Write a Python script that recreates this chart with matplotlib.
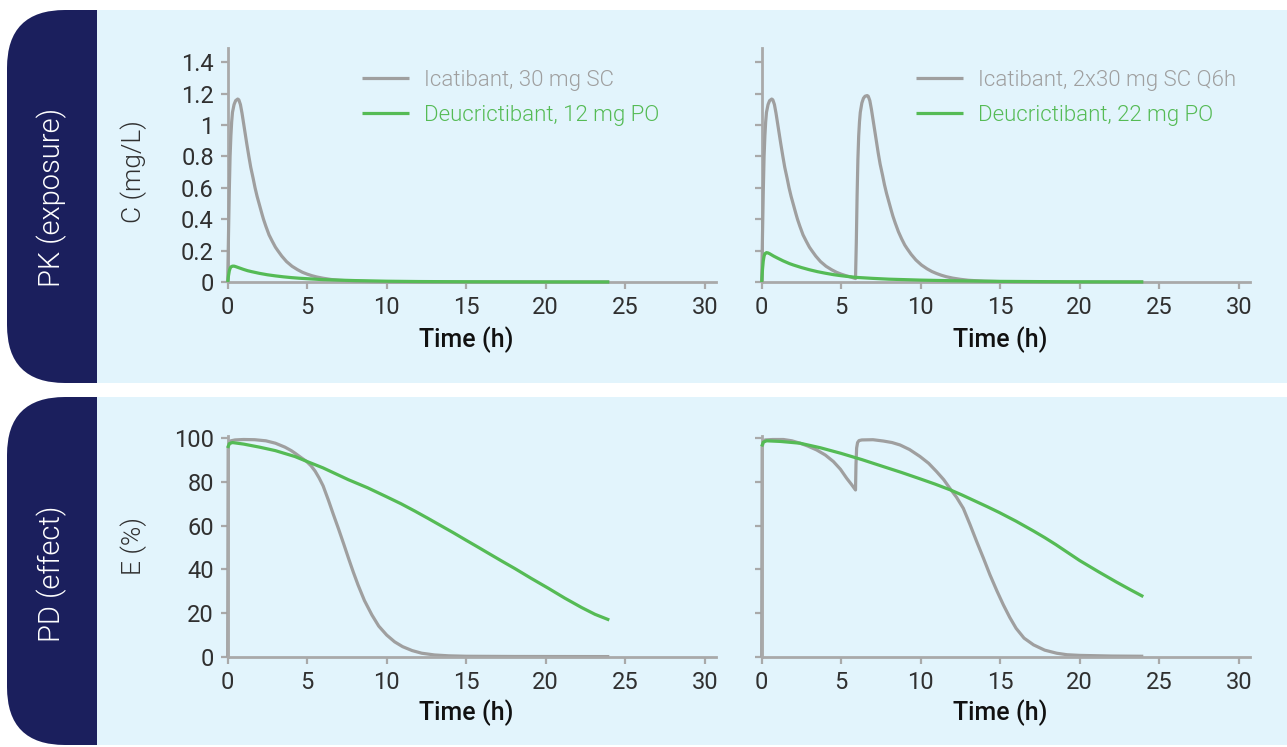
import matplotlib
matplotlib.use("Agg")
import matplotlib.pyplot as plt
from matplotlib.patches import FancyBboxPatch, Rectangle

# ---------------- data ----------------
# PK, panel 1 : Icatibant 30 mg SC / Deucrictibant 12 mg PO
pk1_ica_t = [0, 0.05, 0.1, 0.15, 0.2, 0.25, 0.3, 0.4, 0.5, 0.63, 0.7, 0.8, 0.9, 1.0, 1.1, 1.2, 1.33,
             1.45, 1.6, 1.72, 1.85, 2.0, 2.15, 2.25, 2.4, 2.6, 2.8, 3.0, 3.15, 3.4, 3.7, 4.05, 4.4,
             4.7, 5.0, 5.3, 5.6, 6.0, 6.5, 7, 8, 9, 10, 12, 24]
pk1_ica_c = [0, 0.3, 0.58, 0.8, 0.93, 1.02, 1.08, 1.13, 1.155, 1.165, 1.16, 1.13, 1.075, 1.01, 0.945,
             0.88, 0.8, 0.73, 0.66, 0.6, 0.545, 0.49, 0.435, 0.4, 0.355, 0.3, 0.26, 0.222, 0.2, 0.165,
             0.13, 0.1, 0.078, 0.062, 0.05, 0.04, 0.032, 0.024, 0.016, 0.011, 0.005, 0.0025, 0.0012,
             0.0004, 0]
pk1_deu_t = [0, 0.05, 0.1, 0.15, 0.2, 0.3, 0.4, 0.5, 0.75, 1, 1.25, 1.5, 2, 2.5, 3, 3.5, 4, 4.5, 5, 6,
             7, 8, 10, 12, 15, 20, 24]
pk1_deu_c = [0, 0.04, 0.07, 0.087, 0.096, 0.101, 0.101, 0.098, 0.089, 0.08, 0.072, 0.066, 0.055,
             0.046, 0.039, 0.033, 0.028, 0.024, 0.021, 0.015, 0.012, 0.009, 0.005, 0.003, 0.0015,
             0.0005, 0.0002]

# PK, panel 2 : Icatibant 2x30 mg SC Q6h / Deucrictibant 22 mg PO
pk2_ica_t = [0, 0.05, 0.1, 0.15, 0.2, 0.25, 0.3, 0.4, 0.5, 0.63, 0.7, 0.8, 0.9, 1.0, 1.1, 1.2, 1.33,
             1.45, 1.6, 1.72, 1.85, 2.0, 2.15, 2.25, 2.4, 2.6, 2.8, 3.0, 3.15, 3.4, 3.7, 4.05, 4.4,
             4.7, 5.0, 5.3, 5.6, 5.9,
             5.95, 6.0, 6.05, 6.1, 6.15, 6.2, 6.3, 6.4, 6.5, 6.63, 6.7, 6.8, 6.9, 7.0, 7.1, 7.2, 7.33,
             7.45, 7.6, 7.72, 7.85, 8.0, 8.15, 8.25, 8.4, 8.6, 8.8, 9.0, 9.15, 9.4, 9.7, 10.05, 10.4,
             10.7, 11.0, 11.3, 11.6, 12, 12.5, 13, 14, 15, 16, 18, 24]
pk2_ica_c = [0, 0.3, 0.58, 0.8, 0.93, 1.02, 1.08, 1.13, 1.155, 1.165, 1.16, 1.13, 1.075, 1.01, 0.945,
             0.88, 0.8, 0.73, 0.66, 0.6, 0.545, 0.49, 0.435, 0.4, 0.355, 0.3, 0.26, 0.222, 0.2, 0.165,
             0.13, 0.1, 0.078, 0.062, 0.05, 0.04, 0.032, 0.022,
             0.25, 0.55, 0.78, 0.93, 1.02, 1.08, 1.14, 1.17, 1.183, 1.187, 1.183, 1.155, 1.1, 1.035,
             0.97, 0.905, 0.82, 0.75, 0.68, 0.62, 0.565, 0.51, 0.455, 0.42, 0.375, 0.32, 0.275, 0.235,
             0.212, 0.176, 0.14, 0.108, 0.084, 0.067, 0.054, 0.043, 0.034, 0.025, 0.017, 0.011,
             0.005, 0.0025, 0.0012, 0.0004, 0]
pk2_deu_t = [0, 0.05, 0.1, 0.15, 0.2, 0.3, 0.4, 0.5, 0.75, 1, 1.36, 1.75, 2, 2.5, 3, 3.5, 4, 4.5, 5,
             5.5, 6, 7, 8, 10, 12, 15, 20, 24]
pk2_deu_c = [0, 0.08, 0.135, 0.165, 0.18, 0.187, 0.185, 0.18, 0.165, 0.152, 0.134, 0.117, 0.108,
             0.092, 0.078, 0.066, 0.056, 0.047, 0.04, 0.034, 0.029, 0.023, 0.018, 0.012, 0.008,
             0.004, 0.001, 0.0005]

# PD, panel 1
pd1_ica_t = [0, 0.03, 0.1, 0.2, 0.46, 1.0, 1.7, 2.4, 3.0, 3.6, 4.0, 4.24, 4.6, 4.97, 5.25, 5.5, 5.75,
             6.0, 6.34, 6.65, 6.97, 7.3, 7.6, 7.9, 8.2, 8.6, 9.07, 9.5, 10, 10.5, 11, 11.6, 12.2, 13,
             13.9, 15, 18, 24]
pd1_ica_e = [0, 96, 98, 98.8, 99.2, 99.4, 99.3, 98.8, 97.7, 95.9, 94.3, 93.1, 91.2, 89.3, 87.3, 84.9,
             81.8, 78.2, 71.5, 65, 58.5, 51.5, 45, 38.7, 32.8, 25.7, 19.1, 14, 9.9, 6.8, 4.6, 2.8,
             1.6, 0.8, 0.4, 0.2, 0.1, 0.05]
pd1_deu_t = [0, 0.1, 0.3, 1, 2, 3, 4.23, 5, 6, 7, 7.59, 8.8, 9.96, 10.9, 11.78, 12.6, 13.4, 14.2,
             14.97, 15.8, 16.5, 17.3, 18.07, 19.1, 20.17, 21.2, 22.26, 23.1, 24]
pd1_deu_e = [95.5, 97.5, 98.0, 97.3, 95.9, 94.3, 91.6, 89.3, 86.4, 83.0, 81.0, 77.3, 73.3, 70.0,
             66.6, 63.3, 60.0, 56.7, 53.4, 49.9, 46.9, 43.5, 40.3, 35.8, 31.3, 26.8, 22.5, 19.4, 16.8]

# PD, panel 2
pd2_ica_t = [0, 0.03, 0.1, 0.21, 0.7, 1.36, 1.9, 2.41, 2.9, 3.46, 4.0, 4.51, 4.95, 5.34, 5.65, 5.9,
             5.93, 5.97, 6.03, 6.12, 6.3, 7.0, 7.65, 8.2, 8.7, 9.3, 9.96, 10.5, 11.0, 11.45, 11.84,
             12.25, 12.68, 13.1, 13.52, 13.95, 14.36, 14.8, 15.2, 15.6, 16.0, 16.5, 17.1, 17.8, 18.55,
             19.2, 20.0, 22, 24]
pd2_ica_e = [0, 96, 98.5, 99.2, 99.4, 99.4, 98.8, 97.7, 96.4, 94.6, 92.3, 89.3, 85.8, 81.7, 78.8,
             76.3, 88, 95.5, 98, 98.9, 99.2, 99.3, 98.7, 98, 96.9, 94.8, 91.6, 88.5, 84.7, 81, 77,
             73, 67.9, 60.5, 52.7, 45, 37.4, 30, 23.7, 18, 13.0, 8.5, 5.4, 3, 1.6, 0.9, 0.6, 0.3, 0.2]
pd2_deu_t = [0, 0.1, 0.31, 1.2, 2.41, 3.7, 4.97, 6.3, 7.65, 8.8, 9.96, 10.9, 11.84, 12.6, 13.4, 14.2,
             14.94, 16, 17.1, 17.8, 18.5, 19.3, 20, 21.2, 22.3, 23.2, 24]
pd2_deu_e = [96.2, 98.2, 98.8, 98.5, 97.7, 95.6, 93.1, 90.2, 87.0, 84.3, 81.4, 79.0, 76.4, 74.0,
             71.3, 68.6, 66.0, 62.0, 57.5, 54.5, 51.3, 47.4, 44.0, 38.8, 34.2, 30.6, 27.5]

legend_left = ["Icatibant, 30 mg SC", "Deucrictibant, 12 mg PO"]
legend_right = ["Icatibant, 2x30 mg SC Q6h", "Deucrictibant, 22 mg PO"]
row_labels = ["PK (exposure)", "PD (effect)"]
pk_ticks = [0, 0.2, 0.4, 0.6, 0.8, 1, 1.2, 1.4]
pk_ticklabels = ["0", "0.2", "0.4", "0.6", "0.8", "1", "1.2", "1.4"]
pd_ticks = [0, 20, 40, 60, 80, 100]
x_ticks = [0, 5, 10, 15, 20, 25, 30]

# ---------------- style ----------------
GRAY = "#9f9f9f"
GREEN = "#55bb55"
SPINE = "#a9a9a9"
LIGHT = "#e2f4fc"
NAVY = "#1b1f5d"
TXT = "#303030"
FONT = "Roboto"

W, H = 1287, 747
fig = plt.figure(figsize=(W / 100, H / 100), dpi=100)
fig.patch.set_facecolor("white")


def fx(px):
    return px / W


def fy(py):
    return 1 - py / H


# background bands
for (top, bot) in [(10, 383), (397, 745)]:
    nav = FancyBboxPatch((fx(7), fy(bot)), fx(150), fy(top) - fy(bot),
                         boxstyle="round,pad=0,rounding_size=0.045",
                         transform=fig.transFigure, facecolor=NAVY, edgecolor="none",
                         mutation_aspect=W / H, zorder=-3)
    fig.patches.append(nav)
    lb = Rectangle((fx(97), fy(bot)), fx(1287 - 97), fy(top) - fy(bot),
                   transform=fig.transFigure, facecolor=LIGHT, edgecolor="none", zorder=-2)
    fig.patches.append(lb)

fig.text(fx(52), fy(197), row_labels[0], rotation=90, ha="center", va="center",
         color="white", fontsize=21, family=FONT, fontweight=300)
fig.text(fx(52), fy(574), row_labels[1], rotation=90, ha="center", va="center",
         color="white", fontsize=21, family=FONT, fontweight=300)

PXH = 15.9  # px per hour
ax_w = 30.7 * PXH


def make_ax(left_px, zero_py, top_py):
    ax = fig.add_axes([fx(left_px), fy(zero_py), fx(ax_w), (zero_py - top_py) / H])
    ax.set_facecolor("none")
    for s in ["top", "right"]:
        ax.spines[s].set_visible(False)
    for s in ["left", "bottom"]:
        ax.spines[s].set_color(SPINE)
        ax.spines[s].set_linewidth(2)
    ax.tick_params(axis="both", colors=SPINE, width=1.6, length=5, direction="out",
                   labelcolor=TXT, labelsize=17)
    ax.tick_params(axis="x", pad=5)
    ax.tick_params(axis="y", pad=5)
    ax.set_xlim(0, 30.7)
    ax.set_xticks(x_ticks)
    ax.set_xticklabels([str(v) for v in x_ticks], family=FONT, fontsize=17)
    ax.set_xlabel("Time (h)", family=FONT, fontsize=18, fontweight="medium", color="#111111",
                  va="center")
    return ax


axes = {}
axes["pk1"] = make_ax(227.7, 282, 48)
axes["pk2"] = make_ax(761.7, 282, 48)
axes["pd1"] = make_ax(227.7, 656.7, 436)
axes["pd2"] = make_ax(761.7, 656.7, 436)

LW = 2.3
for key, (it, ic, dt, dc) in {
    "pk1": (pk1_ica_t, pk1_ica_c, pk1_deu_t, pk1_deu_c),
    "pk2": (pk2_ica_t, pk2_ica_c, pk2_deu_t, pk2_deu_c),
}.items():
    ax = axes[key]
    ax.set_ylim(0, 1.49)
    ax.set_yticks(pk_ticks)
    ax.plot(it, ic, color=GRAY, lw=LW, solid_capstyle="butt", solid_joinstyle="round",
            clip_on=False, zorder=3)
    ax.plot(dt, dc, color=GREEN, lw=LW, solid_capstyle="butt", solid_joinstyle="round",
            clip_on=False, zorder=3)
    ax.xaxis.set_label_coords((466 - 227.7) / ax_w, (282 - 340) / 234)

for key, (it, ie, dt, de) in {
    "pd1": (pd1_ica_t, pd1_ica_e, pd1_deu_t, pd1_deu_e),
    "pd2": (pd2_ica_t, pd2_ica_e, pd2_deu_t, pd2_deu_e),
}.items():
    ax = axes[key]
    ax.set_ylim(0, 101)
    ax.set_yticks(pd_ticks)
    ax.plot(it, ie, color=GRAY, lw=LW, solid_capstyle="butt", solid_joinstyle="round",
            clip_on=False, zorder=2)
    ax.plot(dt, de, color=GREEN, lw=LW, solid_capstyle="butt", solid_joinstyle="round",
            clip_on=False, zorder=3)
    ax.xaxis.set_label_coords((466 - 227.7) / ax_w, (656.7 - 713) / 220.7)

axes["pk1"].set_yticklabels(pk_ticklabels, family=FONT, fontsize=17)
axes["pk2"].set_yticklabels([])
axes["pd1"].set_yticklabels([str(v) for v in pd_ticks], family=FONT, fontsize=17)
axes["pd2"].set_yticklabels([])

axes["pk1"].set_ylabel("C (mg/L)", family=FONT, fontsize=19, color=TXT, fontweight=300)
axes["pk1"].yaxis.set_label_coords((147 - 227.7) / ax_w, (282 - 172) / 234)
axes["pd1"].set_ylabel("E (%)", family=FONT, fontsize=19, color=TXT, fontweight=300)
axes["pd1"].yaxis.set_label_coords((147 - 227.7) / ax_w, 0.5)

# legends
for key, labels, xpx in [("pk1", legend_left, 362), ("pk2", legend_right, 916)]:
    ax = axes[key]
    h = ax.get_lines()
    left0 = 227.7 if key == "pk1" else 761.7
    leg = ax.legend(h, labels, loc="upper left",
                    bbox_to_anchor=((xpx - left0) / ax_w, (282 - 70) / 234),
                    frameon=False, borderpad=0, borderaxespad=0, handlelength=2.1,
                    handletextpad=0.7, labelspacing=0.63,
                    prop={"family": FONT, "size": 16, "weight": 300},
                    labelcolor=[GRAY, GREEN])

fig.savefig("out.png", dpi=100, facecolor=fig.get_facecolor())
